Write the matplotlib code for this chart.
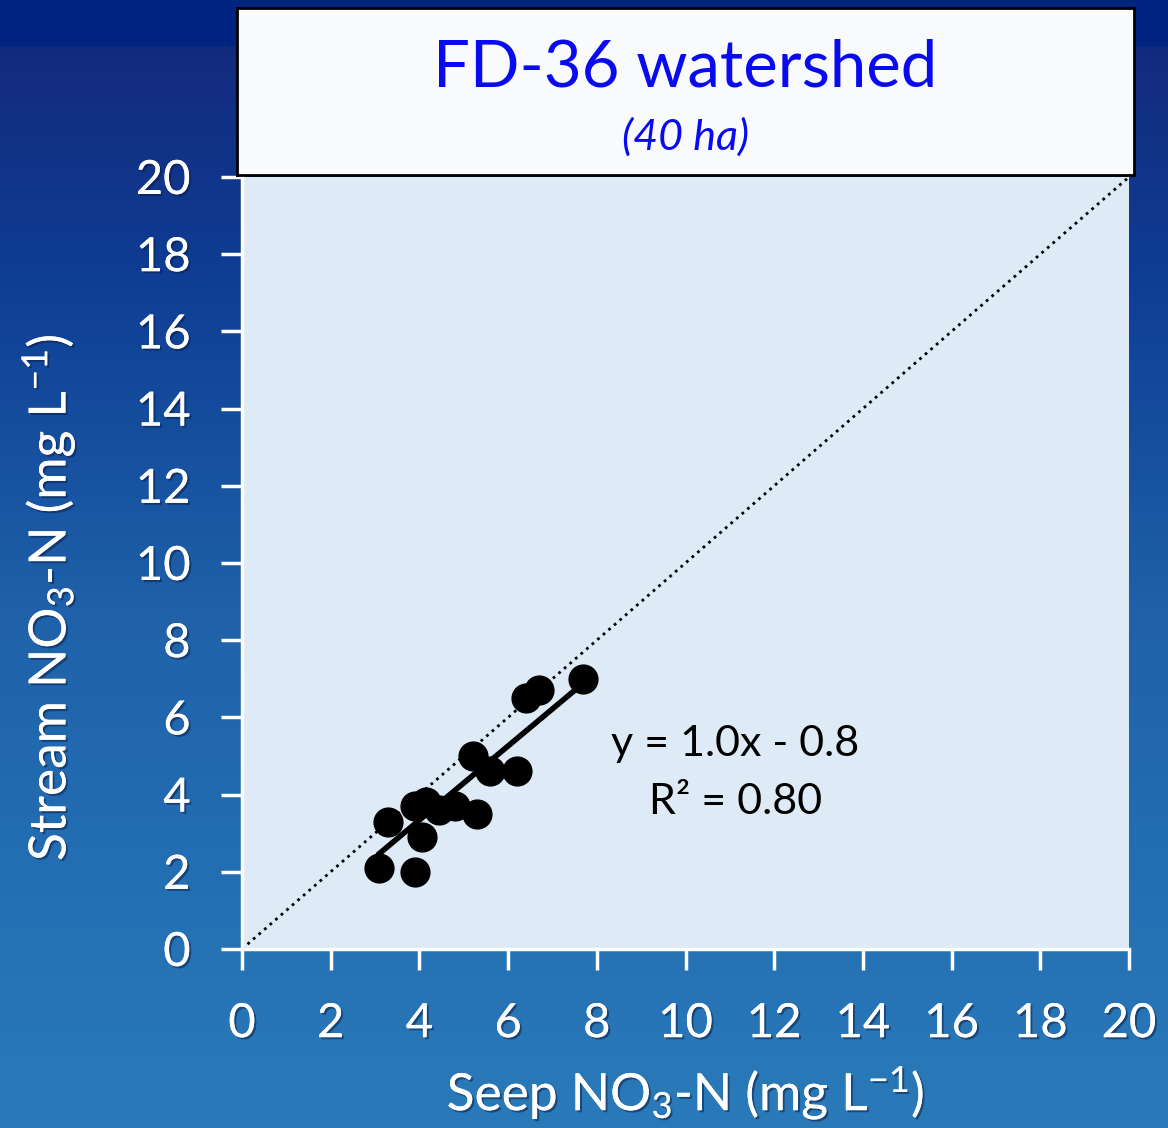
import matplotlib.pyplot as plt
import matplotlib.patheffects as pe
import numpy as np
from matplotlib.colors import LinearSegmentedColormap
from matplotlib.patches import Rectangle

plt.rcParams['font.family'] = ['Lato', 'DejaVu Sans']
plt.rcParams['mathtext.fontset'] = 'custom'
plt.rcParams['mathtext.rm'] = 'Lato'
plt.rcParams['mathtext.it'] = 'Lato:italic'

# seep vs stream nitrate
seep = [3.1, 3.9, 4.05, 3.3, 3.9, 4.15, 4.45, 4.8, 5.3, 5.2, 5.6, 6.2, 6.4, 6.7, 7.7]
stream = [2.1, 2.0, 2.9, 3.3, 3.7, 3.8, 3.6, 3.7, 3.5, 5.0, 4.6, 4.6, 6.5, 6.7, 7.0]

# fitted line as drawn in the chart
fit_slope = 0.96
fit_intercept = -0.5

ticks = [0, 2, 4, 6, 8, 10, 12, 14, 16, 18, 20]

shadow = [pe.withSimplePatchShadow(offset=(1.5, -1.5), shadow_rgbFace='#0a1a40', alpha=0.5), pe.Normal()]

fig = plt.figure(figsize=(11.68, 11.28), dpi=100)

# background gradient
bg = fig.add_axes([0, 0, 1, 1], zorder=-10)
cmap = LinearSegmentedColormap.from_list('bg', [(0.0, '#14267a'), (0.25, '#0e3e94'),
                                                (0.55, '#1f62aa'), (0.8, '#2470b4'), (1.0, '#2a7ab9')])
grad = np.linspace(0, 1, 256).reshape(-1, 1)
bg.imshow(grad, aspect='auto', cmap=cmap, extent=[0, 1, 0, 1], origin='upper')
bg.add_patch(Rectangle((0, 1 - 45 / 1128), 1, 45 / 1128, color='#002580'))
bg.set_xlim(0, 1)
bg.set_ylim(0, 1)
bg.axis('off')

ax = fig.add_axes([242 / 1168, 1 - 949 / 1128, 887 / 1168, 772 / 1128])
ax.set_facecolor('#deeaf6')

ax.plot([0, 20], [0, 20], color='black', linestyle=':', linewidth=2, zorder=2)
ax.scatter(seep, stream, s=430, color='black', zorder=4)
xf = np.array([min(seep), max(seep)])
ax.plot(xf, fit_slope * xf + fit_intercept, color='black', linewidth=4, zorder=3)

ax.text(0.556, 0.266, 'y = 1.0x - 0.8', transform=ax.transAxes, ha='center', va='center',
        fontsize=31, color='black')
ax.text(0.556, 0.191, 'R² = 0.80', transform=ax.transAxes, ha='center', va='center',
        fontsize=31, color='black')

ax.set_xlim(0, 20)
ax.set_ylim(0, 20)
ax.set_xticks(ticks)
ax.set_yticks(ticks)
for s in ['top', 'right']:
    ax.spines[s].set_visible(False)
for s in ['left', 'bottom']:
    ax.spines[s].set_color('white')
    ax.spines[s].set_linewidth(2.5)
ax.tick_params(colors='white', width=2.5, length=15, labelsize=34, pad=22)
ax.tick_params(axis='x', pad=24)
for lab in ax.get_xticklabels() + ax.get_yticklabels():
    lab.set_path_effects(shadow)

ax.set_xlabel('Seep NO$_3$-N (mg L$^{-1}$)', color='white', fontsize=37, labelpad=14,
              path_effects=shadow)
ax.set_ylabel('Stream NO$_3$-N (mg L$^{-1}$)', color='white', fontsize=37,
              path_effects=shadow)
ax.yaxis.set_label_coords(-0.185, 0.455)

# title box
tb = fig.add_axes([237 / 1168, 1 - 175 / 1128, 897 / 1168, 167 / 1128])
tb.set_facecolor('#f9fafc')
tb.set_xticks([])
tb.set_yticks([])
for s in tb.spines.values():
    s.set_color('black')
    s.set_linewidth(2)
tb.text(0.5, 0.64, 'FD-36 watershed', ha='center', va='center', fontsize=47, color='#0a0af0',
        transform=tb.transAxes)
tb.text(0.5, 0.23, '(40 ha)', ha='center', va='center', fontsize=31, color='#0a0af0',
        style='italic', transform=tb.transAxes)

fig.savefig('out.png', dpi=100)
